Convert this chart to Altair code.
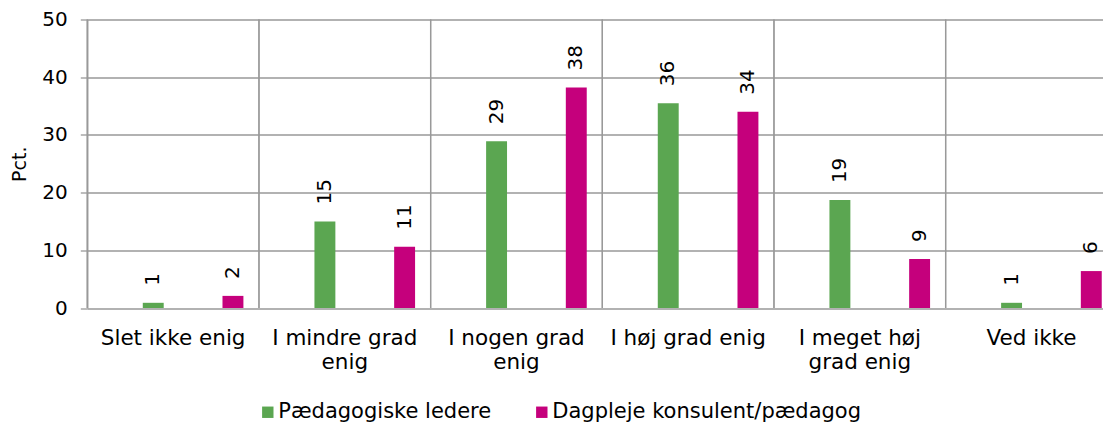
import altair as alt
import pandas as pd

categories = ["Slet ikke enig", "I mindre grad\nenig", "I nogen grad\nenig",
              "I høj grad enig", "I meget høj\ngrad enig", "Ved ikke"]
series_names = ["Pædagogiske ledere", "Dagpleje konsulent/pædagog"]
ledere = [0.9, 15.0, 28.9, 35.5, 18.7, 0.9]
dagpleje = [2.1, 10.6, 38.2, 34.0, 8.5, 6.4]
ledere_labels = ["1", "15", "29", "36", "19", "1"]
dagpleje_labels = ["2", "11", "38", "34", "9", "6"]
colors = ["#5BA651", "#C5007C"]

rows = []
for i, c in enumerate(categories):
    rows.append({"cat": c, "series": series_names[0], "value": ledere[i], "label": ledere_labels[i]})
    rows.append({"cat": c, "series": series_names[1], "value": dagpleje[i], "label": dagpleje_labels[i]})
df = pd.DataFrame(rows)

FONT = "DejaVu Sans"
GRID = "#999999"
W = 1030
H = 288.5

xenc = alt.X("cat:N", sort=categories,
             scale=alt.Scale(paddingInner=0, paddingOuter=0),
             axis=alt.Axis(title=None, labelExpr="split(datum.label, '\\n')",
                           bandPosition=0.5,
                           labelFont=FONT, labelFontSize=21.5, labelColor="#000000",
                           labelPadding=19, labelLineHeight=24, labelAngle=0,
                           labelAlign="center", labelBaseline="top",
                           ticks=False, domain=False, grid=False, labelLimit=400))
xoff = alt.XOffset("series:N", sort=series_names,
                   scale=alt.Scale(paddingInner=0.7375, paddingOuter=0.4456, align=0.781))
yenc = alt.Y("value:Q", scale=alt.Scale(domain=[0, 50]),
             axis=alt.Axis(values=[0, 10, 20, 30, 40, 50], title="Pct.",
                           titleFont=FONT, titleFontSize=19, titleFontWeight="normal",
                           titleColor="#000000", titlePadding=12,
                           labelFont=FONT, labelFontSize=20, labelColor="#000000",
                           labelPadding=13, tickSize=7, tickColor=GRID,
                           gridColor=GRID, gridOpacity=1, domainColor=GRID,
                           tickWidth=1.3, gridWidth=1.3, domainWidth=1.3))

bars = alt.Chart(df).mark_bar().encode(
    x=xenc, xOffset=xoff, y=yenc,
    color=alt.Color("series:N", sort=series_names,
                    scale=alt.Scale(domain=series_names, range=colors),
                    legend=alt.Legend(title=None, orient="none", direction="horizontal",
                                      legendX=170, legendY=382,
                                      symbolType="square", symbolSize=130,
                                      symbolStrokeWidth=0, symbolOpacity=1,
                                      labelFont=FONT, labelFontSize=21,
                                      labelColor="#000000", labelOffset=0,
                                      labelLimit=600, columnPadding=40)),
)

texts = alt.Chart(df).mark_text(angle=270, align="left", baseline="middle", dx=17,
                                font=FONT, fontSize=20, color="#000000").encode(
    x=alt.X("cat:N", sort=categories), xOffset=alt.XOffset("series:N", sort=series_names),
    y=alt.Y("value:Q"), text="label:N")

vgrid = alt.Chart(df).mark_rule(color=GRID, strokeWidth=1.3).encode(
    x=alt.X("cat:N", sort=categories, bandPosition=0))

chart = alt.layer(vgrid, bars, texts).properties(
    width=W, height=H,
    autosize=alt.AutoSizeParams(type="none"),
    padding={"left": 79.3, "top": 11.5, "right": 1095 - 79.3 - W, "bottom": 115},
).configure_view(stroke=None)

chart.save("out.html", embed_options={"renderer": "svg", "actions": False})
